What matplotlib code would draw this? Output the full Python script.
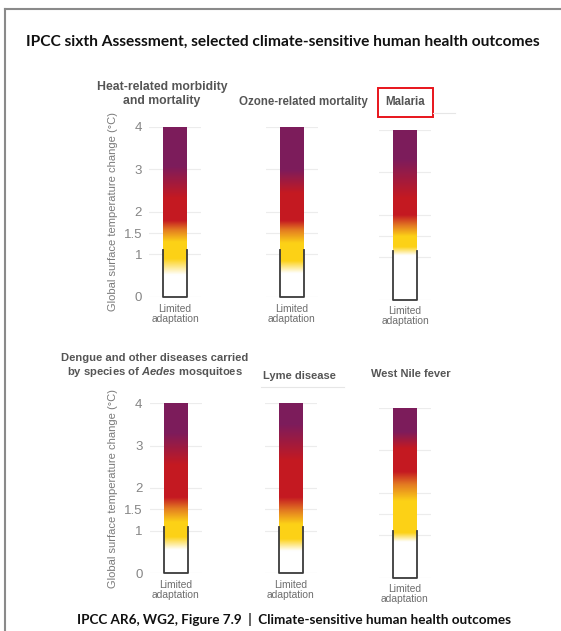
import numpy as np
import matplotlib
matplotlib.use("Agg")
import matplotlib.pyplot as plt
from matplotlib.lines import Line2D
from matplotlib.patches import Rectangle

plt.rcParams['font.family'] = ['Liberation Sans', 'DejaVu Sans']
plt.rcParams['mathtext.fontset'] = 'custom'
plt.rcParams['mathtext.it'] = 'Liberation Sans:italic:bold'

W, H = 561, 631

# outcomes (panel titles)
outcomes = [
    "Heat-related morbidity\nand mortality",
    "Ozone-related mortality",
    "Malaria",
    "Dengue and other diseases carried\nby species of $\\it{Aedes}$ mosquitoes",
    "Lyme disease",
    "West Nile fever",
]
bar_label = "Limited\nadaptation"

# temperature (°C) at which each colour of the risk bar is reached
white_end  = [0.52, 0.56, 1.05, 0.55, 0.52, 0.83]
yellow_lo  = [0.90, 0.85, 1.25, 0.85, 0.80, 1.04]
yellow_hi  = [1.30, 1.27, 1.50, 1.20, 1.15, 1.79]
orange_mid = [1.58, 1.58, 1.75, 1.52, 1.47, 2.18]
red_lo     = [1.80, 1.80, 2.00, 1.78, 1.78, 2.48]
red_hi     = [2.33, 2.45, 2.40, 2.55, 2.65, 3.03]
purple_lo  = [3.08, 3.00, 3.32, 3.30, 3.50, 3.42]
bar_top    = [4.0, 4.0, 4.0, 4.0, 4.0, 4.0]
# top of the outlined "limited adaptation" box
box_top    = [1.10, 1.10, 1.15, 1.08, 1.08, 1.10]

yticks = [0, 1, 1.5, 2, 3, 4]
ytick_labels = ["0", "1", "1.5", "2", "3", "4"]

white = (1.0, 1.0, 1.0)
yellow = (0.99, 0.82, 0.09)
orange = (0.89, 0.48, 0.13)
red = (0.77, 0.10, 0.13)
purple = (0.49, 0.11, 0.36)

# layout in pixels: bar centre, y of 0 °C
centre_x = [175, 291.5, 405, 175.5, 290.5, 404.5]
zero_y = [297, 297, 299.5, 573, 573, 577.5]
px_per_deg = 42.5
ax_w = 52


def fx(x):
    return x / W


def fy(y):
    return 1 - y / H


fig = plt.figure(figsize=(W / 100, H / 100), dpi=100)
fig.patch.set_facecolor('white')

for i in range(6):
    left = centre_x[i] - ax_w / 2
    ax = fig.add_axes([fx(left), fy(zero_y[i]), ax_w / W, 4 * px_per_deg / H])
    ax.set_xlim(-0.5, 0.5)
    ax.set_ylim(0, 4)
    for s in ax.spines.values():
        s.set_visible(False)

    # colour gradient of the bar
    levels = [0, white_end[i], yellow_lo[i], yellow_hi[i], orange_mid[i],
              red_lo[i], red_hi[i], purple_lo[i], bar_top[i]]
    cols = [white, white, yellow, yellow, orange, red, red, purple, purple]
    t = np.linspace(0, bar_top[i], 500)
    img = np.zeros((len(t), 1, 3))
    for c in range(3):
        img[:, 0, c] = np.interp(t, levels, [col[c] for col in cols])
    half = 12 / ax_w
    ax.imshow(img, extent=[-half, half, 0, bar_top[i]], origin='lower',
              aspect='auto', interpolation='bilinear', zorder=2)

    # outline box (left, bottom, right)
    ax.plot([-half, -half, half, half], [box_top[i], 0, 0, box_top[i]],
            color='#3a3a3a', lw=1.3, clip_on=False, zorder=3)

    ax.set_yticks(yticks)
    ax.grid(axis='y', color='#ececec', lw=0.8, zorder=0)
    ax.tick_params(axis='both', length=0, pad=5, colors='#808080')
    if i in (0, 3):
        ax.set_yticklabels(ytick_labels, fontsize=9.5, color='#858585')
        ax.set_ylabel("Global surface temperature change (°C)", fontsize=8,
                      color='#7a7a7a', labelpad=4)
    else:
        ax.set_yticklabels([])
    ax.set_xticks([0])
    ax.set_xticklabels([bar_label], fontsize=7.4, color='#6e6e6e', linespacing=0.95)
    ax.tick_params(axis='x', pad=5)

# panel titles
title_pos = [(162, 94), (303, 102), (405.5, 102), (155, 366), (299, 376), (411, 374)]
title_size = [8.8, 8.3, 8.3, 8.1, 8.0, 8.0]
for (x, y), txt, fs in zip(title_pos, outcomes, title_size):
    fig.text(fx(x), fy(y), txt, ha='center', va='center', fontsize=fs,
             fontweight='bold', color='#555555', linespacing=1.15)

# red highlight box around "Malaria"
fig.add_artist(Rectangle((fx(378), fy(117)), 55 / W, 29 / H, transform=fig.transFigure,
                         fill=False, edgecolor='#e8141b', lw=1.4))
fig.add_artist(Line2D([fx(433), fx(455)], [fy(112.5), fy(112.5)], color='#e6e6e6', lw=0.8))
fig.add_artist(Line2D([fx(261), fx(344)], [fy(387), fy(387)], color='#e6e6e6', lw=0.8))

# main title and source line
fig.text(fx(26), fy(42), "IPCC sixth Assessment, selected climate-sensitive human health outcomes",
         ha='left', va='center', fontsize=11.2, fontweight='bold', color='#111111',
         family=['Lato', 'DejaVu Sans'])
fig.text(fx(294), fy(620), "IPCC AR6, WG2, Figure 7.9  |  Climate-sensitive human health outcomes",
         ha='center', va='center', fontsize=9.7, fontweight='bold', color='#111111',
         family=['Lato', 'DejaVu Sans'])

# frame lines (top and left)
fig.add_artist(Line2D([fx(5), 1], [fy(9), fy(9)], color='#8a8a8a', lw=1.5))
fig.add_artist(Line2D([fx(5), fx(5)], [fy(9), 0], color='#8a8a8a', lw=1.5))

plt.savefig("out.png", dpi=100, facecolor='white')
plt.close()
